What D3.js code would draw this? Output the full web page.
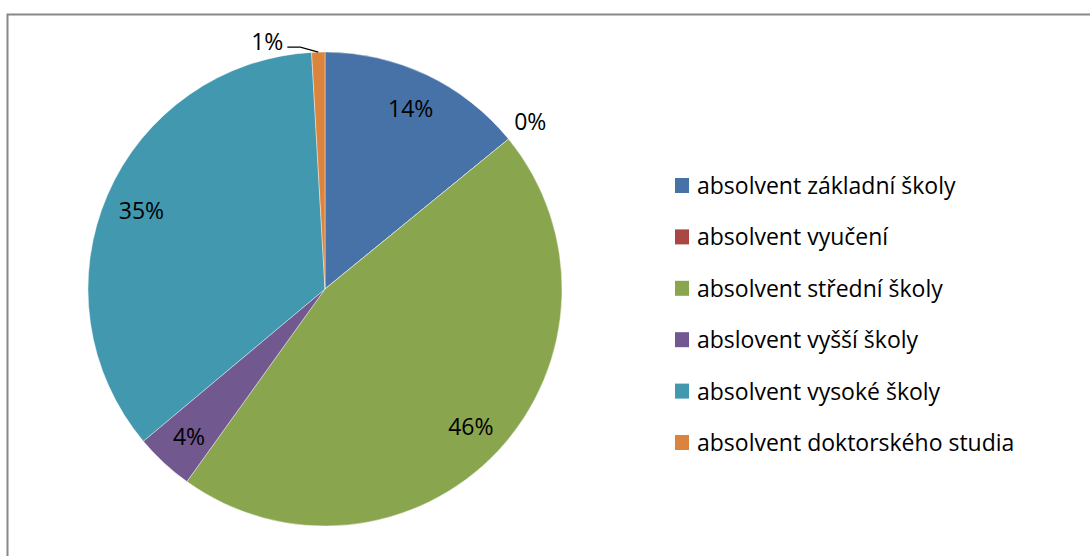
<!DOCTYPE html>
<html>
<head>
<meta charset="utf-8">
<script src="https://cdn.jsdelivr.net/npm/d3@7"></script>
<style>
  body { margin: 0; background: #fff; }
  svg { display: block; font-family: "Open Sans", Lato, sans-serif; }
</style>
</head>
<body>
<div id="chart"></div>
<script>
// data
var categories = [
    "absolvent základní školy",
    "absolvent vyučení",
    "absolvent střední školy",
    "abslovent vyšší školy",
    "absolvent vysoké školy",
    "absolvent doktorského studia"
];
var values = [14.1, 0, 45.8, 4.0, 35.2, 0.9];
var labels = ["14%", "0%", "46%", "4%", "35%", "1%"];
var colors = ["#4672a8", "#aa4643", "#89a54e", "#71588f", "#4198af", "#db843d"];

var width = 1090, height = 556;
var cx = 325, cy = 289, radius = 237;
var fontSize = "23px";

var svg = d3.select("#chart").append("svg")
    .attr("width", width)
    .attr("height", height);

// outer frame
svg.append("rect")
    .attr("x", 7.5).attr("y", 14.5)
    .attr("width", width + 20).attr("height", height + 20)
    .attr("fill", "none")
    .attr("stroke", "#888")
    .attr("stroke-width", 2);

var pie = d3.pie().sort(null).value(function (d) { return d; });
var arcs = pie(values);

var arc = d3.arc().innerRadius(0).outerRadius(radius);
var labelArc = d3.arc().innerRadius(200).outerRadius(200);
var outerArc = d3.arc().innerRadius(radius + 28).outerRadius(radius + 28);
var edgeArc = d3.arc().innerRadius(radius).outerRadius(radius);

var g = svg.append("g").attr("transform", "translate(" + cx + "," + cy + ")");

g.selectAll("path.slice")
    .data(arcs)
    .enter().append("path")
    .attr("class", "slice")
    .attr("d", arc)
    .attr("fill", function (d, i) { return colors[i]; })
    .attr("stroke", "#fff")
    .attr("stroke-opacity", 0.5)
    .attr("stroke-width", 0.8);

// data labels
arcs.forEach(function (d, i) {
    var small = values[i] < 2;
    var p;
    if (!small) {
        p = labelArc.centroid(d);
        g.append("text")
            .attr("x", p[0]).attr("y", p[1])
            .attr("text-anchor", "middle")
            .attr("dominant-baseline", "central")
            .style("font-size", fontSize)
            .attr("fill", "#000")
            .text(labels[i]);
    } else if (i === values.length - 1) {
        // last small slice at the top: label with leader line to the left
        var e = edgeArc.centroid(d);
        var mid = [e[0] - 18, e[1] - 5];
        var end = [mid[0] - 13, mid[1]];
        g.append("path")
            .attr("d", d3.line()([e, mid, end]))
            .attr("fill", "none")
            .attr("stroke", "#000")
            .attr("stroke-width", 1.2);
        g.append("text")
            .attr("x", end[0] - 4).attr("y", end[1] - 6)
            .attr("text-anchor", "end")
            .attr("dominant-baseline", "central")
            .style("font-size", fontSize)
            .text(labels[i]);
    } else {
        p = outerArc.centroid(d);
        g.append("text")
            .attr("x", p[0]).attr("y", p[1])
            .attr("text-anchor", "middle")
            .attr("dominant-baseline", "central")
            .style("font-size", fontSize)
            .text(labels[i]);
    }
});

// legend
var legend = svg.append("g").attr("transform", "translate(675,185)");
var rowH = 51.4;

var item = legend.selectAll("g.item")
    .data(categories)
    .enter().append("g")
    .attr("class", "item")
    .attr("transform", function (d, i) { return "translate(0," + (i * rowH) + ")"; });

item.append("rect")
    .attr("x", 0).attr("y", -7)
    .attr("width", 14).attr("height", 15)
    .attr("fill", function (d, i) { return colors[i]; });

item.append("text")
    .attr("x", 22).attr("y", 0)
    .attr("dominant-baseline", "central")
    .style("font-size", fontSize)
    .attr("fill", "#000")
    .text(function (d) { return d; });
</script>
</body>
</html>
